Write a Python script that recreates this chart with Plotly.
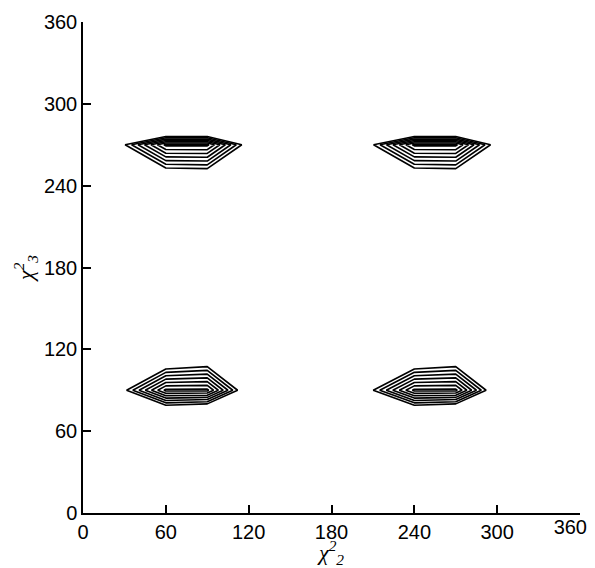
import plotly.graph_objects as go

# Grid of dihedral angles (degrees)
chi2_deg = [0, 30, 60, 90, 120, 150, 180, 210, 240, 270, 300, 330, 360]
chi3_deg = [0, 30, 60, 90, 120, 150, 180, 210, 240, 270, 300, 330, 360]

# Surface values (one row per chi3 value)
row_000 = [0, 0, 0, 0, 0, 0, 0, 0, 0, 0, 0, 0, 0]
row_030 = [0, 0, 0, 0, 0, 0, 0, 0, 0, 0, 0, 0, 0]
row_060 = [0, -5, -9.9, -11.6, -5, 0, 0, -5, -9.9, -11.6, -5, 0, 0]
row_090 = [0, 0.65, 7.3, 7.3, -1.3, 0, 0, 0.95, 7.3, 7.3, -1.3, 0, 0]
row_120 = [0, -4, -4.8, -3.6, -3, 0, 0, -4, -4.8, -3.6, -3, 0, 0]
row_150 = [0, 0, 0, 0, 0, 0, 0, 0, 0, 0, 0, 0, 0]
row_180 = [0, 0, 0, 0, 0, 0, 0, 0, 0, 0, 0, 0, 0]
row_210 = [0, 0, 0, 0, 0, 0, 0, 0, 0, 0, 0, 0, 0]
row_240 = [0, -3, -3.8, -3.5, -3, 0, 0, -3, -3.8, -3.5, -3, 0, 0]
row_270 = [0, 0.89, 7.3, 7.3, -0.26, 0, 0, 0.9, 7.3, 7.3, -0.2, 0, 0]
row_300 = [0, -15, -24, -24, -15, 0, 0, -15, -24, -24, -15, 0, 0]
row_330 = [0, 0, 0, 0, 0, 0, 0, 0, 0, 0, 0, 0, 0]
row_360 = [0, 0, 0, 0, 0, 0, 0, 0, 0, 0, 0, 0, 0]

z_grid = [row_000, row_030, row_060, row_090, row_120, row_150, row_180,
          row_210, row_240, row_270, row_300, row_330, row_360]

contour_start = 1
contour_end = 7
contour_step = 1

tick_vals = [0, 60, 120, 180, 240, 300, 360]
y_tick_text = ["0", "60", "120", "180", "240", "300", "360"]
x_tick_text = ["0", "60", "120", "180", "240", "300", ""]
x_end_tick = [360]
x_end_text = ["360"]

fig = go.Figure()
fig.add_trace(go.Contour(
    x=chi2_deg, y=chi3_deg, z=z_grid,
    contours=dict(start=contour_start, end=contour_end, size=contour_step,
                  coloring="none"),
    line=dict(color="black", width=1.6, smoothing=0),
    showscale=False, hoverinfo="skip",
))
# empty helper trace so the overlay axis carrying the last x label is drawn
fig.add_trace(go.Scatter(x=[], y=[], xaxis="x2", yaxis="y", mode="markers",
                         showlegend=False, hoverinfo="skip"))

tick_font = dict(family="Liberation Sans, Arial, sans-serif", size=20, color="black")
title_font = dict(family="Liberation Serif, serif", size=22, color="black", style="italic")

axis_common = dict(
    range=[0, 360], tickvals=tick_vals,
    ticks="inside", ticklen=8, tickwidth=1.5, tickcolor="black",
    showline=True, linecolor="black", linewidth=1.5,
    showgrid=False, zeroline=False, mirror=False, automargin=False,
    ticklabeloverflow="allow", tickfont=tick_font,
)

fig.update_layout(
    width=587, height=560,
    margin=dict(l=75, r=15, t=14, b=55, autoexpand=False),
    paper_bgcolor="white", plot_bgcolor="white",
    showlegend=False,
    xaxis=dict(**axis_common, ticktext=x_tick_text,
               title=dict(text="χ<sup>2</sup><sub>2</sub>", standoff=0, font=title_font)),
    xaxis2=dict(range=[0, 360], overlaying="x", anchor="y", side="bottom",
                tickvals=x_end_tick, ticktext=x_end_text, ticks="",
                showline=False, showgrid=False, zeroline=False, automargin=False,
                ticklabelposition="outside left", ticklabelshift=7,
                ticklabeloverflow="allow", tickfont=tick_font),
    yaxis=dict(**axis_common, ticktext=y_tick_text,
               title=dict(text="χ<sup>2</sup><sub>3</sub>", standoff=4, font=title_font)),
)

fig.write_html("out.html")
